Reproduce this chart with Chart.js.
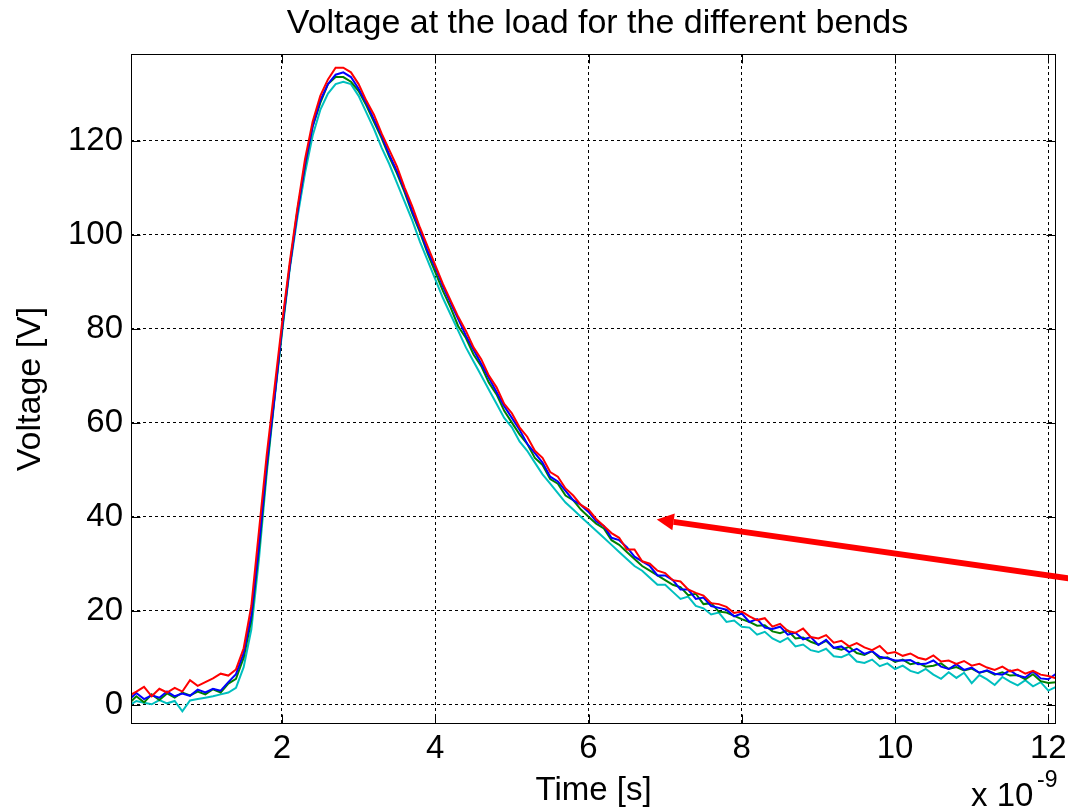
<!DOCTYPE html>
<html><head><meta charset="utf-8">
<script src="https://cdn.jsdelivr.net/npm/chart.js@4.4.0/dist/chart.umd.min.js"></script>
<style>html,body{margin:0;padding:0;background:#fff}#wrap{width:1068px;height:809px;position:relative}</style>
</head><body><div id="wrap"><canvas id="c"></canvas></div>
<script>
// Time samples (x 1e-9 s)
const times = [
 0.0,0.1,0.2,0.3,0.4,0.5,0.6,0.7,0.8,0.9,
 1.0,1.1,1.2,1.3,1.4,1.5,1.6,1.7,1.8,1.9,
 2.0,2.1,2.2,2.3,2.4,2.5,2.6,2.7,2.8,2.9,
 3.0,3.1,3.2,3.3,3.4,3.5,3.6,3.7,3.8,3.9,
 4.0,4.1,4.2,4.3,4.4,4.5,4.6,4.7,4.8,4.9,
 5.0,5.1,5.2,5.3,5.4,5.5,5.6,5.7,5.8,5.9,
 6.0,6.1,6.2,6.3,6.4,6.5,6.6,6.7,6.8,6.9,
 7.0,7.1,7.2,7.3,7.4,7.5,7.6,7.7,7.8,7.9,
 8.0,8.1,8.2,8.3,8.4,8.5,8.6,8.7,8.8,8.9,
 9.0,9.1,9.2,9.3,9.4,9.5,9.6,9.7,9.8,9.9,
 10.0,10.1,10.2,10.3,10.4,10.5,10.6,10.7,10.8,10.9,
 11.0,11.1,11.2,11.3,11.4,11.5,11.6,11.7,11.8,11.9,
 12.0,12.1
];
const blue = [
 1.0,2.5,1.2,2.0,1.5,2.8,1.8,2.4,1.9,3.2,
 2.6,3.4,3.0,4.8,6.5,11,19,34,51,65,
 80,93,104.5,115,123,128.5,132,134,134.5,133.5,
 131,128,124.5,121,117,113.5,109.5,105,101,96.5,
 93,89,85.5,82,78.5,75.5,72.5,69.5,66.5,63.5,
 61,58.5,55.5,53.5,51.5,48.5,47.5,45.5,43.5,42.5,
 41,39,38,35.5,35,33.5,31.5,30.5,29.5,27.5,
 27.5,26.5,24.5,24.5,22.5,22.8,21,20.6,20.2,18.8,
 19.4,17.6,18.2,16.4,16.1,16.6,14.9,15.3,13.9,14.4,
 12.7,13.8,12.1,12.4,11.2,11.9,10.8,11.4,10.2,9.9,
 9.4,9.4,9.5,8.6,8.7,9.4,8.1,7.6,8.6,7.4,
 7.9,6.8,7.3,6.6,6.4,7.3,6.2,5.8,7.1,5.6,
 5.4,6.6
];
const green = [
 0.2,1.8,0.5,2.2,1.0,2.4,1.5,2.6,2.0,2.8,
 2.2,3.3,2.6,4.5,5.5,10,18,33,50,65,
 79.5,93,105,114.5,123,128,132,133.5,133.5,132.5,
 130.5,127.5,124,120.5,116.5,113,109,104.5,100.5,96,
 92,88,84.5,80.5,78,74.5,72,68.5,66,62.5,
 60,57.5,55.5,52.5,51,48,47,44.5,43.5,41.5,
 40,38.5,37.5,35,34,32.5,31,29.5,28.5,27.5,
 26.5,25.5,25,23.3,23.6,21.4,21.6,19.8,19.6,18.9,
 18.2,17.6,16.8,16.9,15.6,15.2,15.8,14.1,14.3,13.4,
 12.8,13.6,12.1,11.7,12.3,11,10.6,11.4,9.8,10.1,
 9.1,9.6,8.6,8.9,8.1,8.3,8.8,7.6,8.0,7.3,
 7.7,6.8,7.2,6.4,6.9,6.2,6.3,5.4,6.5,5.0,
 4.6,4.8
];
const red = [
 1.9,2.8,3.8,1.8,3.4,2.6,3.6,2.8,5.2,4.0,
 4.8,5.6,6.6,6.2,7.5,12,21,37,53,67,
 81,94,105.5,116,124,129.5,133,135.5,135.5,134.5,
 132,128.5,125.5,121.5,118,114.5,110,106,101.5,97.5,
 93.5,89.5,86,82.5,79.5,76,73.5,70,67.5,64,
 62,59,57,54,52.5,49.5,48.5,46,44.5,42.5,
 41.5,39.5,38,36.5,35.5,33,33,30.5,30,28.5,
 28,26.5,26.2,24.5,23.8,23.2,21.6,21.4,20.8,19.5,
 19.8,18.8,18,18.4,16.6,17.2,15.7,15.3,16.2,14.4,
 14.1,14.8,13.2,13.6,12.4,13.1,12.2,11.6,12.5,10.9,
 11.2,10.4,10.9,10,9.6,10.5,9.2,9.4,8.7,9.3,
 8.3,8.7,7.9,7.4,8.1,7.1,7.5,6.6,7.2,6.4,
 6.1,5.6
];
const cyan = [
 -0.2,0.8,0.4,0.1,1.0,0.3,0.8,-1.4,0.9,1.2,
 1.5,1.8,2.2,2.6,3.6,8,16,31,49,64.5,
 79,92.5,103.5,113,121,126.5,130,132,132.5,132,
 129.5,126,122.5,118.5,115,111,107,103,98.5,94.5,
 90.5,86.5,83,79.5,76,73,70,67,64,61,
 59,56,54,51.5,49,47,45,43,41.5,40,
 38.5,37,35.5,34,32.5,31,29.5,28.5,27,25.5,
 25.5,24,22.5,23,21,20.5,19.2,19.6,17.6,17.9,
 16.6,16.4,14.9,15.5,14.1,13.3,14.2,12.4,12.8,11.6,
 11.2,11.9,10.3,10.1,10.8,9.2,8.9,9.6,8.2,8.8,
 7.6,8.3,7.2,6.7,7.6,6.4,5.5,6.9,5.7,6.8,
 4.6,6.3,5.4,4.2,5.9,4.9,4.1,5.2,3.9,4.8,
 3.0,3.8
];
const xTicks = [2,4,6,8,10,12];
const yTicks = [0,20,40,60,80,100,120];
const xRange = [0.03, 12.1];
const yRange = [-4.1, 138.4];
const titleText = 'Voltage at the load for the different bends';
// annotation arrow (data units): tip and tail
const arrowTip = [6.89, 39.4];
const arrowTail = [12.55, 26.2];

const FONT = '"Liberation Sans", Arial, Helvetica, sans-serif';
const pts = arr => times.map((t,i)=>({x:t,y:arr[i]}));

const decor = {
  id:'decor',
  afterDatasetsDraw(chart){
    const {ctx, chartArea:a, scales:{x,y}} = chart;
    ctx.save();
    ctx.setLineDash([]);
    ctx.strokeStyle='#000'; ctx.lineWidth=1;
    const L=Math.round(a.left)+0.5, R=Math.round(a.right)-0.5, T=Math.round(a.top)+0.5, B=Math.round(a.bottom)-0.5;
    ctx.strokeRect(L,T,R-L,B-T);
    const tl=9;
    ctx.beginPath();
    xTicks.forEach(v=>{const px=Math.round(x.getPixelForValue(v))+0.5;ctx.moveTo(px,B);ctx.lineTo(px,B-tl);ctx.moveTo(px,T);ctx.lineTo(px,T+tl);});
    yTicks.forEach(v=>{const py=Math.round(y.getPixelForValue(v))+0.5;ctx.moveTo(L,py);ctx.lineTo(L+tl,py);ctx.moveTo(R,py);ctx.lineTo(R-tl,py);});
    ctx.stroke();
    // title, centred over the plot area
    ctx.fillStyle='#000'; ctx.textAlign='center'; ctx.textBaseline='middle';
    ctx.font='34px '+FONT;
    ctx.fillText(titleText, (a.left+a.right)/2 + 4, 24);
    // exponent label
    ctx.textAlign='left'; ctx.textBaseline='alphabetic';
    ctx.font='33px '+FONT;
    ctx.fillText('x 10', a.right-85, 806);
    ctx.font='23px '+FONT;
    ctx.fillText('-9', a.right-19, 787);
    // red arrow
    const tx=x.getPixelForValue(arrowTip[0]), ty=y.getPixelForValue(arrowTip[1]);
    const sx=x.getPixelForValue(arrowTail[0]), sy=y.getPixelForValue(arrowTail[1]);
    const ang=Math.atan2(ty-sy, tx-sx);
    const hl=17, hw=8.5;
    const bx=tx-hl*Math.cos(ang), by=ty-hl*Math.sin(ang);
    ctx.strokeStyle='#ff0000'; ctx.fillStyle='#ff0000'; ctx.lineWidth=6;
    ctx.beginPath(); ctx.moveTo(sx,sy); ctx.lineTo(bx,by); ctx.stroke();
    ctx.beginPath(); ctx.moveTo(tx,ty);
    ctx.lineTo(bx+hw*Math.sin(ang), by-hw*Math.cos(ang));
    ctx.lineTo(bx-hw*Math.sin(ang), by+hw*Math.cos(ang));
    ctx.closePath(); ctx.fill();
    ctx.restore();
  }
};

new Chart(document.getElementById('c'), {
  type:'line',
  data:{datasets:[
    {label:'red', data:pts(red), borderColor:'#ff0000'},
    {label:'blue', data:pts(blue), borderColor:'#0000ff'},
    {label:'green', data:pts(green), borderColor:'#008000'},
    {label:'cyan', data:pts(cyan), borderColor:'#00bfbf'}
  ]},
  options:{
    responsive:true, maintainAspectRatio:false, animation:false, devicePixelRatio:1,
    datasets:{line:{borderWidth:2, pointRadius:0, tension:0, fill:false}},
    layout:{padding:{left:0,right:12,top:54,bottom:0}},
    plugins:{
      legend:{display:false}, tooltip:{enabled:false}, title:{display:false}
    },
    scales:{
      x:{type:'linear', min:xRange[0], max:xRange[1],
        afterBuildTicks:s=>{s.ticks=xTicks.map(v=>({value:v}));},
        afterFit:s=>{s.height=85; s.paddingLeft=0; s.paddingRight=0;},
        ticks:{color:'#000', font:{family:FONT,size:33}, padding:5, maxRotation:0, autoSkip:false, callback:v=>String(v)},
        grid:{color:'#000', lineWidth:1, drawTicks:false},
        border:{display:false, dash:[3,3]},
        title:{display:true, text:'Time [s]', color:'#000', font:{family:FONT,size:33,lineHeight:1}, padding:{top:0,bottom:2}}
      },
      y:{type:'linear', min:yRange[0], max:yRange[1],
        afterBuildTicks:s=>{s.ticks=yTicks.map(v=>({value:v}));},
        afterFit:s=>{s.width=131; s.paddingTop=0; s.paddingBottom=0;},
        ticks:{color:'#000', font:{family:FONT,size:33}, padding:8, autoSkip:false, callback:v=>String(v)},
        grid:{color:'#000', lineWidth:1, drawTicks:false},
        border:{display:false, dash:[3,3]},
        title:{display:true, text:'Voltage [V]', color:'#000', font:{family:FONT,size:34,lineHeight:1}, padding:{top:14,bottom:0}}
      }
    }
  },
  plugins:[decor]
});
</script></body></html>
